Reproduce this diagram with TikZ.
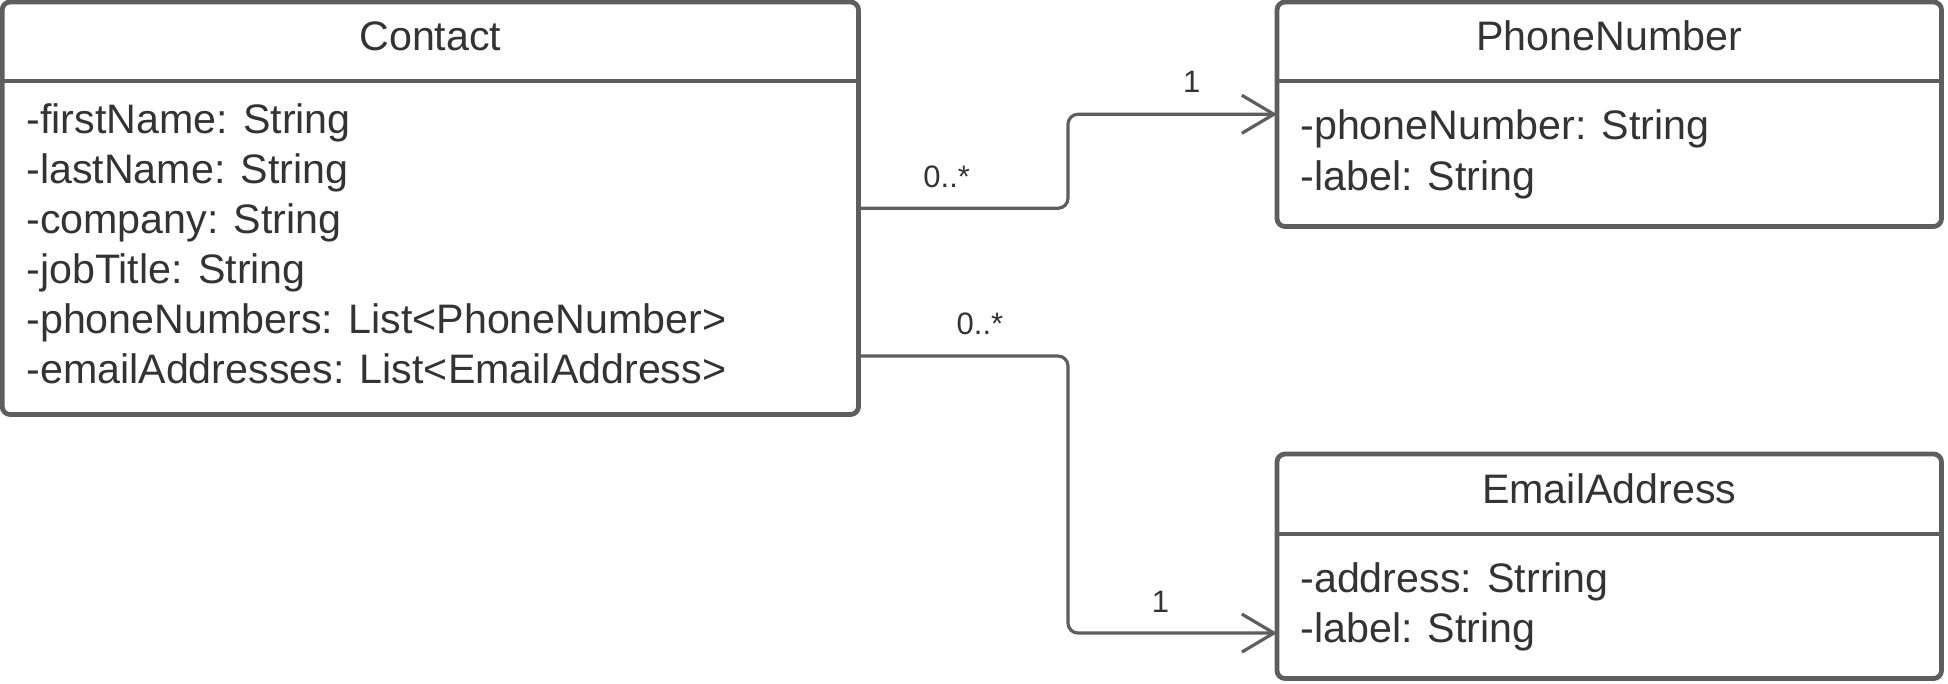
\documentclass[tikz,border=0pt]{standalone}
\usepackage{fontspec}
\setmainfont{Liberation Sans}
\usetikzlibrary{arrows.meta}
\definecolor{umlline}{HTML}{5E5E5E}
\definecolor{umltext}{HTML}{333333}
\begin{document}
\begin{tikzpicture}[
    x=0.5pt, y=-0.5pt,
    classbox/.style={draw=umlline, line width=2.4pt, rounded corners=4pt,
        inner sep=0pt, outer sep=0pt},
    classline/.style={draw=umlline, line width=2.4pt},
    title/.style={anchor=base, text=umltext, inner sep=0pt,
        font=\fontsize{20.6pt}{25pt}\selectfont},
    attr/.style={anchor=base west, text=umltext, inner sep=0pt,
        font=\fontsize{20.6pt}{25pt}\selectfont},
    mult/.style={text=umltext, inner sep=0pt,
        font=\fontsize{15.5pt}{18pt}\selectfont},
    assoc/.style={draw=umlline, line width=1.6pt, rounded corners=5pt,
        -{Straight Barb[length=16pt, width=19pt, line width=1.6pt]}}]

\useasboundingbox (0,0) rectangle (1948,684);

% classes
\node[classbox, minimum width=428.15pt, minimum height=206.25pt]
    (contact) at (430.35,208.25) {};
\node[classbox, minimum width=332.25pt, minimum height=112.25pt]
    (phone) at (1609.25,114.25) {};
\node[classbox, minimum width=332.25pt, minimum height=112.25pt]
    (email) at (1609.25,566.25) {};

\draw[classline] (2.2,81) -- (858.5,81);
\draw[classline] (1277,81) -- (1941.5,81);
\draw[classline] (1277,534) -- (1941.5,534);

\node[title] (contact title) at (430.35,51) {Contact};
\node[title] (phone title) at (1609.25,51) {PhoneNumber};
\node[title] (email title) at (1609.25,503) {EmailAddress};

\node[attr] (contact a1) at (26,134) {-firstName: String};
\node[attr] (contact a2) at (26,183.8) {-lastName: String};
\node[attr] (contact a3) at (26,233.6) {-company: String};
\node[attr] (contact a4) at (26,283.4) {-jobTitle: String};
\node[attr] (contact a5) at (26,333.2) {-phoneNumbers: List<PhoneNumber>};
\node[attr] (contact a6) at (26,383) {-emailAddresses: List<EmailAddress>};

\node[attr] (phone a1) at (1300,140) {-phoneNumber: String};
\node[attr] (phone a2) at (1300,190.5) {-label: String};

\node[attr] (email a1) at (1300,592) {-address: Strring};
\node[attr] (email a2) at (1300,642) {-label: String};

% associations
\draw[assoc] (contact.east) -- ++(209.5,0) |- (phone.west);
\draw[assoc] ([yshift=-73.9pt]contact.east) -- ++(209.5,0)
    |- ([yshift=-33.4pt]email.west);

\node[mult] (phone from) at (946.7,176.7) {0..*};
\node[mult] (phone to) at (1191.7,82.3) {1};
\node[mult] (email from) at (980,323.5) {0..*};
\node[mult] (email to) at (1160.5,601.7) {1};

\end{tikzpicture}
\end{document}
